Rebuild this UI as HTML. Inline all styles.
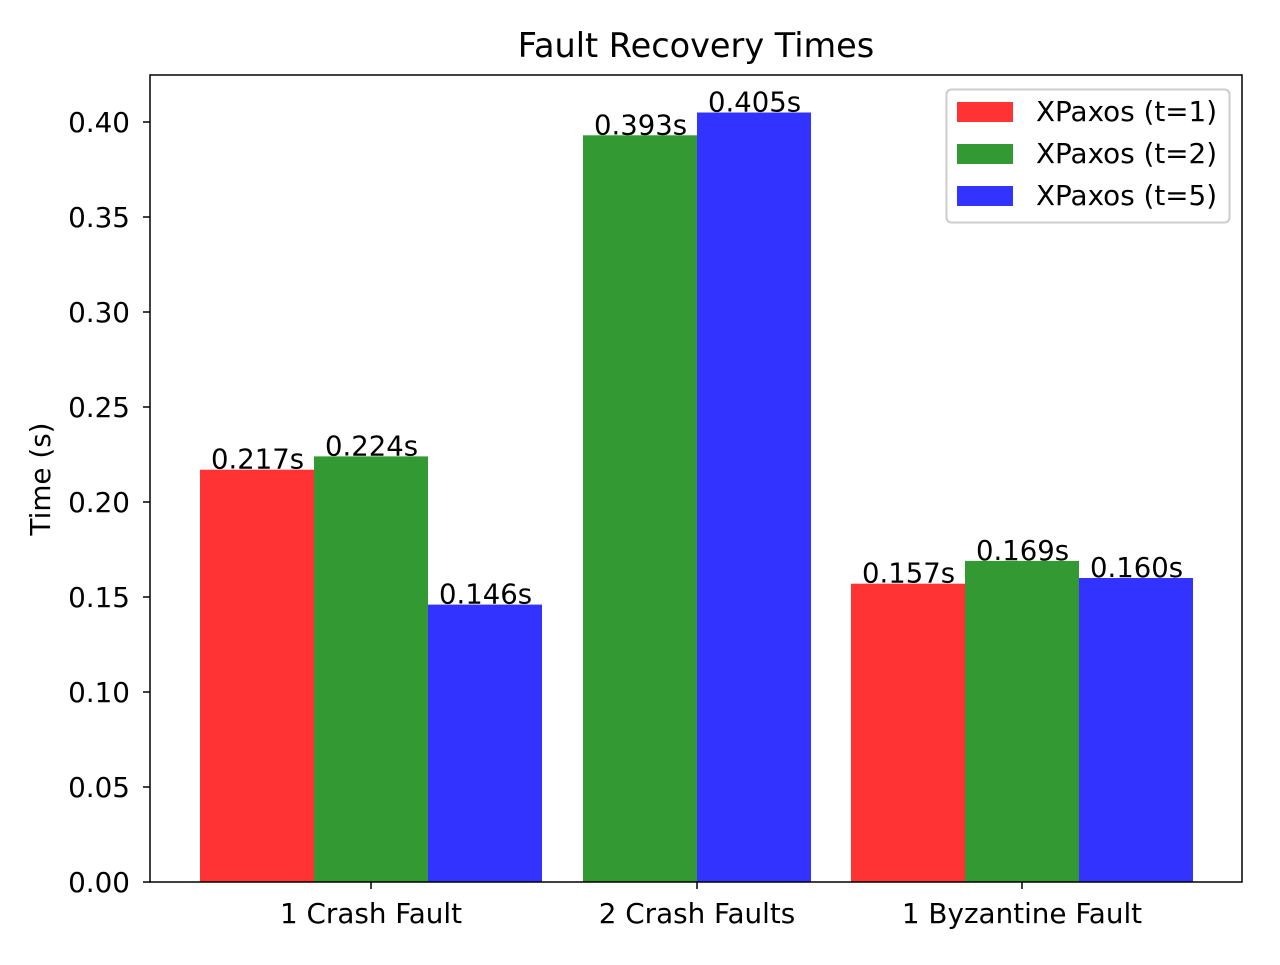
<!DOCTYPE html>
<html><head><meta charset="utf-8"><style>
body{margin:0;background:#fff}
svg text{font-family:"DejaVu Sans","Liberation Sans",sans-serif;fill:#000}
</style></head><body>
<svg id="chart" width="1280" height="960" xmlns="http://www.w3.org/2000/svg">
<rect width="1280" height="960" fill="#fff"/>
<text x="696" y="57" font-size="33.5" text-anchor="middle">Fault Recovery Times</text>
<g id="bars"></g>
<g id="axes"></g>
<g>
<rect x="946.5" y="89.5" width="283" height="133" rx="5" fill="#fff" fill-opacity="0.8" stroke="#ccc" stroke-width="2"/>
<rect x="957" y="102" width="56" height="20" fill="#ff3333"/>
<text x="1036" y="121" font-size="27.8">XPaxos (t=1)</text>
<rect x="957" y="144" width="56" height="20" fill="#339933"/>
<text x="1036" y="163" font-size="27.8">XPaxos (t=2)</text>
<rect x="957" y="186" width="56" height="20" fill="#3333ff"/>
<text x="1036" y="205" font-size="27.8">XPaxos (t=5)</text>
</g>
<text transform="translate(50,479) rotate(-90)" font-size="27.8" text-anchor="middle">Time (s)</text>
</svg>
<script>
const categories=["1 Crash Fault","2 Crash Faults","1 Byzantine Fault"];
const t1=[0.217,0,0.157];
const t2=[0.224,0.393,0.169];
const t5=[0.146,0.405,0.160];
const yTicks=[0,0.05,0.10,0.15,0.20,0.25,0.30,0.35,0.40];
const series=[{name:"t1",vals:t1,color:"#ff3333"},{name:"t2",vals:t2,color:"#339933"},{name:"t5",vals:t5,color:"#3333ff"}];
const NS="http://www.w3.org/2000/svg";
const L=150,R=1242,T=75,B=882;
const y=v=>B-v*1900;
const groupLeft=[200,469,851], catTick=[371,697,1022], bw=114;
const bars=document.getElementById('bars'),axes=document.getElementById('axes');
function mk(tag,attrs,parent){const e=document.createElementNS(NS,tag);for(const k in attrs)e.setAttribute(k,attrs[k]);parent.appendChild(e);return e;}
series.forEach((s,si)=>{s.vals.forEach((v,gi)=>{
 if(v<=0)return;
 const x=groupLeft[gi]+si*bw;
 const r=mk('rect',{x:x,y:y(v),width:bw,height:B-y(v),fill:s.color},bars);
 
 
 const t=mk('text',{x:x+11,y:y(v)-1,'font-size':27.5},bars);
 t.textContent=v.toFixed(3)+'s';
 
 
});});
const frame=mk('rect',{x:L,y:T,width:R-L,height:B-T,fill:'none',stroke:'#000','stroke-width':1.5},axes);


yTicks.forEach(v=>{
 mk('line',{x1:L-7,x2:L,y1:y(v),y2:y(v),stroke:'#000','stroke-width':1.5},axes);
 const t=mk('text',{x:L-20,y:y(v)+10,'font-size':27.8,'text-anchor':'end'},axes);
 t.textContent=v.toFixed(2);
 
 
});
categories.forEach((c,i)=>{
 mk('line',{x1:catTick[i],x2:catTick[i],y1:B,y2:B+7,stroke:'#000','stroke-width':1.5},axes);
 const t=mk('text',{x:catTick[i],y:B+41,'font-size':27.8,'text-anchor':'middle'},axes);
 t.textContent=c;
 
 
});
</script>
</body></html>
